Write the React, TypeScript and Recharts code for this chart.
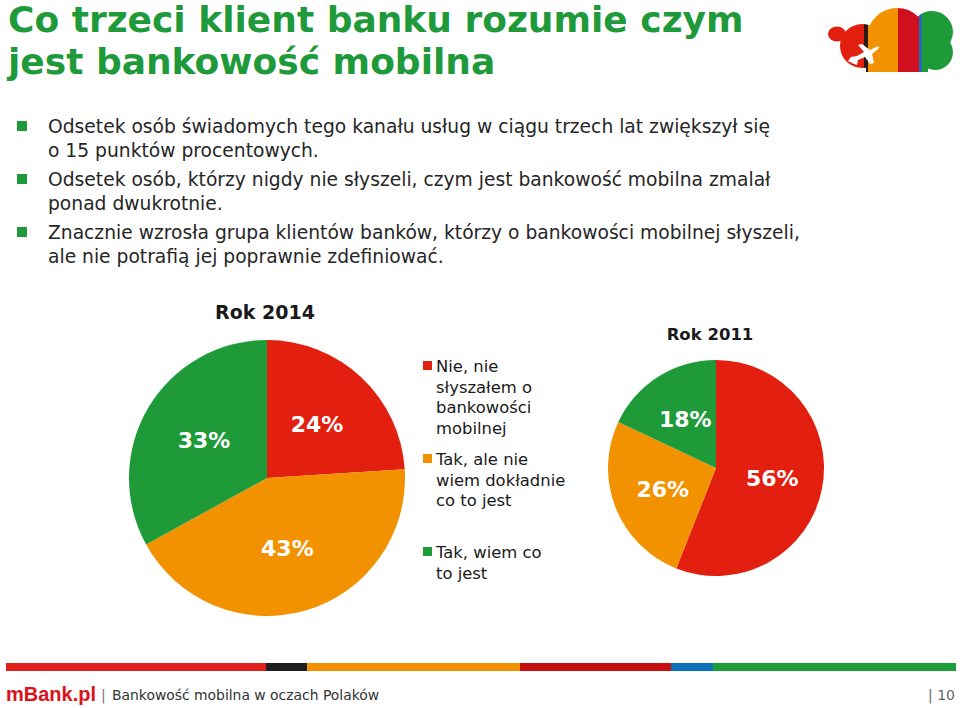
import React from 'react';
import { PieChart, Pie, Cell } from 'recharts';

const categories = [
  'Nie, nie słyszałem o bankowości mobilnej',
  'Tak, ale nie wiem dokładnie co to jest',
  'Tak, wiem co to jest',
];
const legendLines = [
  ['Nie, nie', 'słyszałem o', 'bankowości', 'mobilnej'],
  ['Tak, ale nie', 'wiem dokładnie', 'co to jest'],
  ['Tak, wiem co', 'to jest'],
];
const values2014 = [24, 43, 33];
const values2011 = [56, 26, 18];
const sliceColors = ['#E3200F', '#F39200', '#1E9A38'];

const titleLines = ['Co trzeci klient banku rozumie czym', 'jest bankowość mobilna'];
const bullets = [
  ['Odsetek osób świadomych tego kanału usług w ciągu trzech lat zwiększył się', 'o 15 punktów procentowych.'],
  ['Odsetek osób, którzy nigdy nie słyszeli, czym jest bankowość mobilna zmalał', 'ponad dwukrotnie.'],
  ['Znacznie wzrosła grupa klientów banków, którzy o bankowości mobilnej słyszeli,', 'ale nie potrafią jej poprawnie zdefiniować.'],
];

const data2014 = categories.map((name, i) => ({ name, value: values2014[i] }));
const data2011 = categories.map((name, i) => ({ name, value: values2011[i] }));

const RAD = Math.PI / 180;
const makeLabel = (factor: number) => (props: any) => {
  const { cx, cy, midAngle, outerRadius, value } = props;
  const r = outerRadius * factor;
  const x = cx + r * Math.cos(-midAngle * RAD);
  const y = cy + r * Math.sin(-midAngle * RAD);
  return (
    <text
      x={x}
      y={y}
      fill="#FFFFFF"
      textAnchor="middle"
      dominantBaseline="central"
      fontFamily="DejaVu Sans, Verdana, sans-serif"
      fontWeight="bold"
      fontSize={22}
    >
      {value}%
    </text>
  );
};

const barSegments = [
  { x0: 6, x1: 266, c: '#E3201B' },
  { x0: 266, x1: 307, c: '#1D1D1B' },
  { x0: 307, x1: 520, c: '#F39200' },
  { x0: 520, x1: 671, c: '#C80F0F' },
  { x0: 671, x1: 713, c: '#0B72BA' },
  { x0: 713, x1: 956, c: '#1E9E3A' },
];

const Logo = () => (
  <g>
    <defs>
      <clipPath id="cloudClip">
        <circle cx={862} cy={46} r={22} />
        <circle cx={897} cy={38} r={30} />
        <circle cx={932} cy={32} r={21} />
        <circle cx={935} cy={52} r={18} />
        <rect x={866} y={45} width={62} height={27} />
      </clipPath>
    </defs>
    <ellipse cx={837} cy={34} rx={9} ry={7.5} fill="#E3200F" />
    <g clipPath="url(#cloudClip)">
      <rect x={836} y={0} width={28} height={80} fill="#E3200F" />
      <rect x={864} y={0} width={4} height={80} fill="#2A1A10" />
      <rect x={868} y={0} width={30} height={80} fill="#F39200" />
      <rect x={898} y={0} width={21} height={80} fill="#D0101E" />
      <rect x={919} y={0} width={3} height={80} fill="#1E6FB8" />
      <rect x={922} y={0} width={36} height={80} fill="#1E9A38" />
    </g>
    <path
      d="M848 61 L851 57 L857 56 L864 52 L858 45 L862 44 L870 50 L876 47 Q882 45 877 50 L872 54 L874 63 L870 64 L865 57 L858 60 L857 65 L854 64 Z"
      fill="#FFFFFF"
    />
  </g>
);

export default function App() {
  const font = 'DejaVu Sans, Verdana, sans-serif';
  return (
    <div style={{ position: 'absolute', left: 0, top: 0, width: 960, height: 708, background: '#FFFFFF' }}>
      <div style={{ position: 'absolute', left: 0, top: 0 }}>
        <PieChart width={960} height={708} margin={{ top: 0, right: 0, bottom: 0, left: 0 }}>
          <Pie
            data={data2014}
            dataKey="value"
            nameKey="name"
            cx={267}
            cy={478}
            outerRadius={138}
            startAngle={90}
            endAngle={-270}
            stroke="none"
            labelLine={false}
            label={makeLabel(0.53)}
            isAnimationActive={false}
          >
            {data2014.map((d, i) => (
              <Cell key={d.name} fill={sliceColors[i]} />
            ))}
          </Pie>
          <Pie
            data={data2011}
            dataKey="value"
            nameKey="name"
            cx={716}
            cy={468}
            outerRadius={108}
            startAngle={90}
            endAngle={-270}
            stroke="none"
            labelLine={false}
            label={makeLabel(0.53)}
            isAnimationActive={false}
          >
            {data2011.map((d, i) => (
              <Cell key={d.name} fill={sliceColors[i]} />
            ))}
          </Pie>
        </PieChart>
      </div>
      <svg
        width={960}
        height={708}
        style={{ position: 'absolute', left: 0, top: 0, pointerEvents: 'none' }}
      >
        {titleLines.map((t, i) => (
          <text key={t} x={8} y={32 + i * 42} fill="#1E9A3A" fontFamily={font} fontWeight="bold" fontSize={36}>
            {t}
          </text>
        ))}
        {bullets.map((lines, bi) => (
          <g key={bi}>
            <rect x={17} y={121 + bi * 53} width={10} height={10} fill="#1E9A3A" />
            {lines.map((l, li) => (
              <text key={li} x={48} y={133 + bi * 53 + li * 24} fill="#262626" fontFamily={font} fontSize={18.7}>
                {l}
              </text>
            ))}
          </g>
        ))}
        <text x={265} y={319} textAnchor="middle" fill="#1A1A1A" fontFamily={font} fontWeight="bold" fontSize={19}>
          Rok 2014
        </text>
        <text x={710} y={340} textAnchor="middle" fill="#1A1A1A" fontFamily={font} fontWeight="bold" fontSize={16.5}>
          Rok 2011
        </text>
        {legendLines.map((lines, i) => (
          <g key={i}>
            <rect x={423} y={361 + i * 93} width={9} height={9} fill={sliceColors[i]} />
            {lines.map((l, li) => (
              <text key={li} x={436} y={372 + i * 93 + li * 20.5} fill="#1A1A1A" fontFamily={font} fontSize={16.4}>
                {l}
              </text>
            ))}
          </g>
        ))}
        {barSegments.map((s) => (
          <rect key={s.x0} x={s.x0} y={663} width={s.x1 - s.x0} height={8} fill={s.c} />
        ))}
        <text x={6} y={701} fill="#D9121B" fontFamily="Liberation Sans, Arial, sans-serif" fontWeight="bold" fontSize={20}>
          mBank.pl
        </text>
        <text x={101} y={700} fill="#777777" fontFamily={font} fontSize={14}>|</text>
        <text x={112} y={700} fill="#333333" fontFamily={font} fontSize={13.9}>
          Bankowość mobilna w oczach Polaków
        </text>
        <text x={955} y={700} textAnchor="end" fill="#666666" fontFamily={font} fontSize={14}>
          | 10
        </text>
        <Logo />
      </svg>
    </div>
  );
}
